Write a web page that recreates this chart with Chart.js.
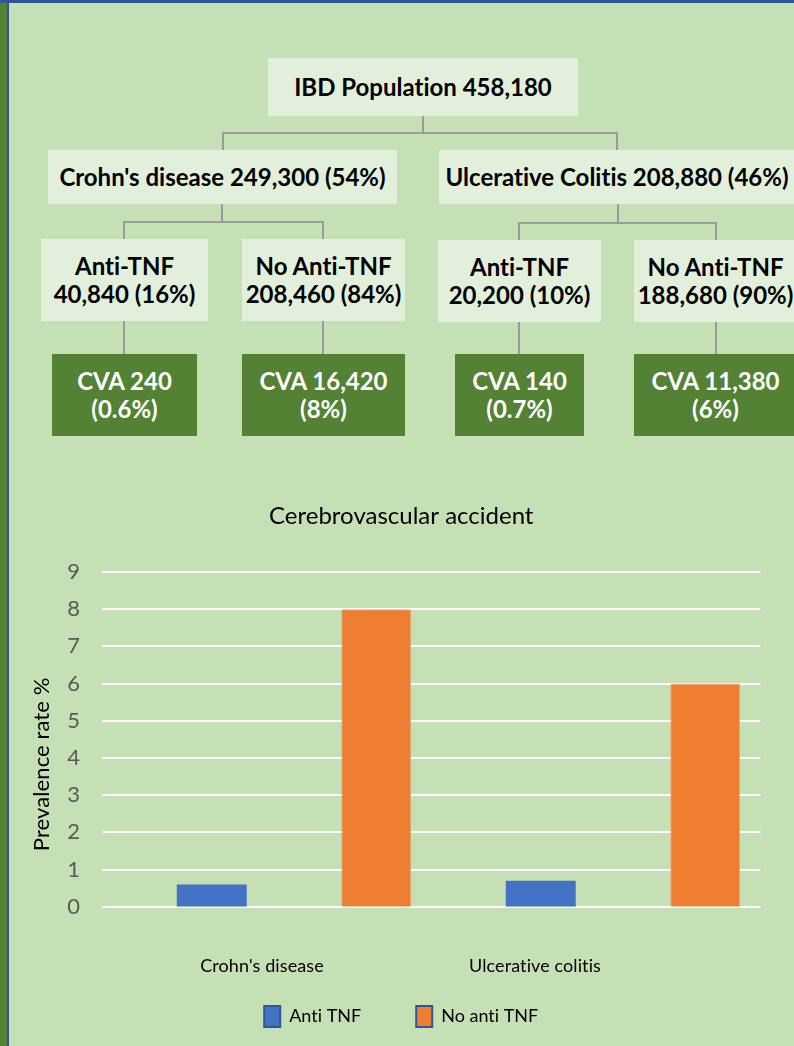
<!DOCTYPE html>
<html>
<head>
<meta charset="utf-8">
<title>IBD population and cerebrovascular accident</title>
<script src="https://cdn.jsdelivr.net/npm/chart.js@4.4.1/dist/chart.umd.min.js"></script>
<style>
  html, body { margin: 0; padding: 0; }
  body {
    width: 794px; height: 1046px; position: relative; overflow: hidden;
    background: #C5E0B4; font-family: Lato, "Noto Sans", sans-serif;
    font-variant-ligatures: none;
  }
  #edgeLeft { position: absolute; left: 0; top: 0; width: 7px; height: 1046px; background: #548235; }
  #edgeLine { position: absolute; left: 7px; top: 0; width: 2px; height: 1046px; background: #2F5597; }
  #edgeTop { position: absolute; left: 0; top: 0; width: 794px; height: 3px; background: #2F5597; }
  .box {
    position: absolute; display: flex; align-items: center; justify-content: center;
    text-align: center; font-weight: 700; font-size: 24px; line-height: 28.5px;
    color: #000; white-space: nowrap;
  }
  .light { background: #E2EFDA; }
  .dark { background: #548235; color: #fff; }
  #links { position: absolute; left: 0; top: 0; }
  #chartBox { position: absolute; left: 15px; top: 490px; width: 779px; height: 556px; }
</style>
</head>
<body>
<div id="edgeLeft"></div>
<div id="edgeLine"></div>
<div id="edgeTop"></div>

<svg id="links" width="794" height="460">
  <g stroke="#9A9A9A" stroke-width="2" fill="none">
    <polyline points="423,116 423,133" />
    <polyline points="223,150 223,133 617,133 617,150" />
    <polyline points="222,204 222,222" />
    <polyline points="124,239 124,222 323,222 323,239" />
    <polyline points="618,204 618,223" />
    <polyline points="519,240 519,223 716,223 716,240" />
    <line x1="124" y1="321" x2="124" y2="354" />
    <line x1="323" y1="321" x2="323" y2="354" />
    <line x1="519" y1="322" x2="519" y2="354" />
    <line x1="716" y1="322" x2="716" y2="354" />
  </g>
</svg>

<div class="box light" style="left:268px;top:58px;width:310px;height:58px;">IBD Population 458,180</div>
<div class="box light" style="left:48px;top:150px;width:349px;height:54px;">Crohn's disease 249,300 (54%)</div>
<div class="box light" style="left:439px;top:150px;width:356px;height:54px;">Ulcerative Colitis 208,880 (46%)</div>

<div class="box light" style="left:41px;top:239px;width:167px;height:82px;">Anti-TNF<br>40,840 (16%)</div>
<div class="box light" style="left:242px;top:239px;width:163px;height:82px;">No Anti-TNF<br>208,460 (84%)</div>
<div class="box light" style="left:438px;top:240px;width:163px;height:82px;">Anti-TNF<br>20,200 (10%)</div>
<div class="box light" style="left:634px;top:240px;width:163px;height:82px;">No Anti-TNF<br>188,680 (90%)</div>

<div class="box dark" style="left:52px;top:354px;width:145px;height:82px;">CVA 240<br>(0.6%)</div>
<div class="box dark" style="left:242px;top:354px;width:163px;height:82px;">CVA 16,420<br>(8%)</div>
<div class="box dark" style="left:455px;top:354px;width:129px;height:82px;">CVA 140<br>(0.7%)</div>
<div class="box dark" style="left:634px;top:354px;width:163px;height:82px;">CVA 11,380<br>(6%)</div>

<div id="chartBox"><canvas id="chart"></canvas></div>

<script>
const categories = ["Crohn's disease", 'Ulcerative colitis'];
const seriesNames = ['Anti TNF', 'No anti TNF'];
const antiTnf = [0.6, 0.7];
const noAntiTnf = [8, 6];
const yTicks = [0, 1, 2, 3, 4, 5, 6, 7, 8, 9];

const chartTitle = 'Cerebrovascular accident';
const yTitle = 'Prevalence rate %';

// the sheet's grid sits a little left of the bars, and the category
// labels were placed by hand under each group
const gridShift = 27;
const labelShift = [-32, -88];

const sheetExtras = {
    id: 'sheetExtras',
    beforeDatasetsDraw(chart) {
        const {ctx, chartArea, scales} = chart;
        const y = scales.y;
        ctx.save();
        ctx.strokeStyle = '#FFFFFF';
        ctx.lineWidth = 2;
        yTicks.forEach(v => {
            const py = Math.round(y.getPixelForValue(v));
            ctx.beginPath();
            ctx.moveTo(chartArea.left - gridShift, py);
            ctx.lineTo(chartArea.right - gridShift, py);
            ctx.stroke();
        });
        ctx.restore();
    },
    afterDraw(chart) {
        const {ctx, chartArea, scales} = chart;
        const x = scales.x;
        ctx.save();
        ctx.fillStyle = '#000000';
        ctx.letterSpacing = '0.1px';
        ctx.font = '18px Lato';
        ctx.textAlign = 'center';
        ctx.textBaseline = 'middle';
        categories.forEach((c, i) => {
            ctx.fillText(c, x.getPixelForValue(i) + labelShift[i], chartArea.bottom + 59);
        });
        ctx.translate(27, (chartArea.top + chartArea.bottom) / 2 + 25);
        ctx.rotate(-Math.PI / 2);
        ctx.font = '22px Lato';
        ctx.fillText(yTitle, 0, 0);
        ctx.restore();
    }
};

const ctx = document.getElementById('chart').getContext('2d');
const chart = new Chart(ctx, {
    type: 'bar',
    data: {
        labels: categories,
        datasets: [{
            label: seriesNames[0],
            data: antiTnf,
            backgroundColor: '#4472C4',
            borderWidth: 0
        }, {
            label: seriesNames[1],
            data: noAntiTnf,
            backgroundColor: '#ED7D31',
            borderColor: '#F2A26F',
            borderWidth: 1
        }]
    },
    options: {
        responsive: true,
        maintainAspectRatio: false,
        animation: false,
        layout: { padding: { left: 0, right: 6.5, top: 0, bottom: 9 } },
        datasets: {
            bar: { barPercentage: 0.425, categoryPercentage: 1.0 }
        },
        scales: {
            x: {
                grid: { display: false },
                border: { display: false },
                ticks: { display: false },
                afterFit: (scale) => { scale.height = 44.3; }
            },
            y: {
                min: 0,
                max: 9,
                afterBuildTicks: (scale) => { scale.ticks = yTicks.map(v => ({ value: v })); },
                grid: { display: false, drawTicks: false },
                border: { display: false },
                ticks: {
                    color: '#595959',
                    font: { family: 'Lato', size: 22 },
                    padding: 49.5
                },
                afterFit: (scale) => { scale.width = 114.5; }
            }
        },
        plugins: {
            title: {
                display: true,
                text: chartTitle,
                color: '#000000',
                font: { family: 'Lato', size: 24, weight: 'normal' },
                padding: { top: 11.6, bottom: 41.6 }
            },
            legend: {
                position: 'bottom',
                labels: {
                    color: '#000000',
                    font: { family: 'Lato', size: 18 },
                    boxWidth: 16,
                    boxHeight: 21,
                    padding: 55,
                    generateLabels: (c) => c.data.datasets.map((ds, i) => ({
                        text: ds.label,
                        fillStyle: ds.backgroundColor,
                        strokeStyle: '#2F5597',
                        lineWidth: 2,
                        fontColor: '#000000',
                        hidden: false,
                        datasetIndex: i
                    }))
                }
            },
            tooltip: { enabled: false }
        }
    },
    plugins: [sheetExtras]
});
</script>
</body>
</html>
